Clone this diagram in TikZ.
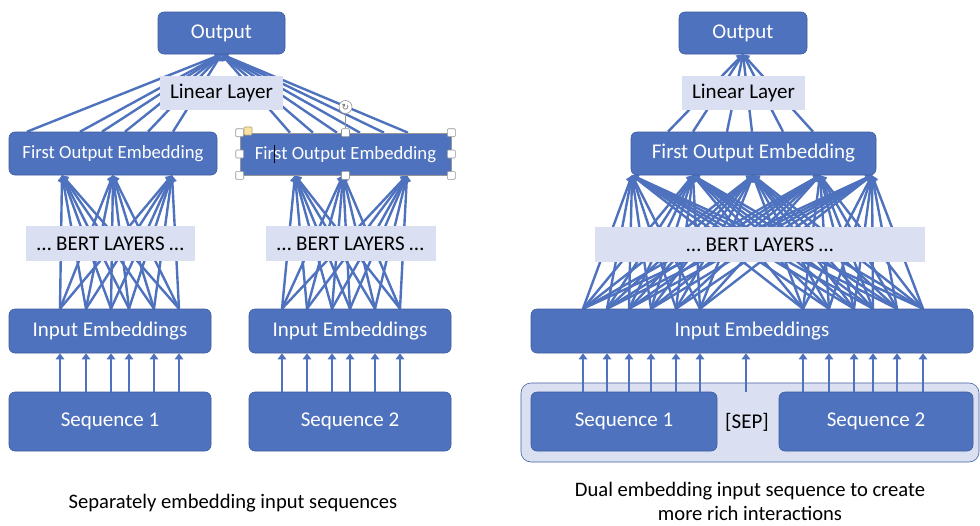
\documentclass[tikz,border=0pt]{standalone}
\usepackage{fontspec}
\setmainfont{Carlito}
\newfontfamily\symfont{DejaVu Sans}
\usetikzlibrary{arrows.meta,backgrounds}
\definecolor{boxblue}{RGB}{79,114,190}
\definecolor{boxedge}{RGB}{62,92,158}
\definecolor{boxlite}{RGB}{218,224,241}
\definecolor{selgrey}{RGB}{150,150,150}
\definecolor{handleyel}{RGB}{250,226,160}

\begin{document}
\begin{tikzpicture}[x=1pt, y=-1pt,
    blk/.style={draw=boxedge, line width=0.6pt, fill=boxblue, rounded corners=6pt, text=white, inner sep=0pt, font=\fontsize{21}{25}\selectfont},
    lite/.style={fill=boxlite, text=black, inner sep=0pt, font=\fontsize{21}{25}\selectfont},
    link/.style={boxblue, line width=2.4pt, -{Triangle[length=6pt,width=8.5pt]}},
    handle/.style={draw=selgrey, fill=white, line width=0.6pt, minimum size=8pt, inner sep=0pt, rounded corners=1pt},
    caption/.style={text=black, align=center, inner sep=0pt, font=\fontsize{20.6}{24}\selectfont}]
  \useasboundingbox (0,0) rectangle (980,525);

  % separately embedded sequences
  \node[blk, minimum width=127pt, minimum height=42pt] (outA) at (221.5,33) {Output};
  \node[lite, minimum width=123pt, minimum height=34pt] (linA) at (221.5,93) {Linear Layer};
  \node[blk, minimum width=208pt, minimum height=43pt, font=\fontsize{18.7}{22}\selectfont] (foeA) at (113,153.5) {First Output Embedding};
  \node[blk, rounded corners=0pt, draw=selgrey, minimum width=211pt, minimum height=42pt, font=\fontsize{18.7}{22}\selectfont] (foeB) at (345.5,154)
    {Fir\rlap{\color{black}\rule[-3pt]{1pt}{18pt}}st Output Embedding};
  \node[lite, minimum width=169pt, minimum height=35pt] (bertA) at (110.5,243.5) {… BERT LAYERS …};
  \node[lite, minimum width=170pt, minimum height=35pt] (bertB) at (350.5,243.5) {… BERT LAYERS …};
  \node[blk, minimum width=202pt, minimum height=44pt] (ieA) at (110,331) {Input Embeddings};
  \node[blk, minimum width=202pt, minimum height=44pt] (ieB) at (350,331) {Input Embeddings};
  \node[blk, minimum width=202pt, minimum height=59pt] (seqA) at (110,421.5) {Sequence 1};
  \node[blk, minimum width=202pt, minimum height=59pt] (seqB) at (350,421.5) {Sequence 2};
  \node[caption] (capA) at (233,503) {Separately embedding input sequences};

  % selection handles
  \foreach \p [count=\i] in {north west,north,north east,east,south east,south,south west,west}
    \node[handle] (h\i) at (foeB.\p) {};
  \node[handle, fill=handleyel, draw=handleyel!70!black] (adj) at (248,131) {};
  \node[handle, circle, minimum size=13pt, font=\symfont\fontsize{9}{9}\selectfont, text=selgrey!70!black] (rot) at (345.5,107) {↻};
  \draw[selgrey, line width=0.6pt] (rot) -- (h2);

  % dual embedded sequence
  \node[blk, minimum width=128pt, minimum height=42pt] (outC) at (743,33) {Output};
  \node[lite, minimum width=123pt, minimum height=34pt] (linC) at (743.5,93) {Linear Layer};
  \node[blk, minimum width=245pt, minimum height=43pt] (foeC) at (753.5,153.5) {First Output Embedding};
  \node[lite, minimum width=330pt, minimum height=35pt] (bertC) at (760,244.5) {… BERT LAYERS …};
  \node[blk, minimum width=442pt, minimum height=44pt] (ieC) at (752,331) {Input Embeddings};
  \node[blk, fill=boxlite, draw=boxblue!85!black, rounded corners=10pt, minimum width=458pt, minimum height=79pt] (grp) at (750,422.5) {};
  \node[blk, minimum width=186pt, minimum height=59pt] (seqC) at (624,421.5) {Sequence 1};
  \node[blk, minimum width=194pt, minimum height=59pt] (seqD) at (876,421.5) {Sequence 2};
  \node[text=black, font=\fontsize{21}{25}\selectfont] (sep) at (747,422) {[SEP]};
  \node[caption] (capC) at (750,501.5) {Dual embedding input sequence to create\\more rich interactions};
  \coordinate (sepTop) at (746,392);

  % token arrows
  \foreach \x in {60,86,111,129,154,179}
    \draw[link] (seqA.north -| \x,0) -- (ieA.south -| \x,0);
  \foreach \x in {282,307,332,350,375,400}
    \draw[link] (seqB.north -| \x,0) -- (ieB.south -| \x,0);
  \foreach \x in {583,607,629,651,676,700}
    \draw[link] (seqC.north -| \x,0) -- (ieC.south -| \x,0);
  \foreach \x in {803,829,854,873,897,923}
    \draw[link] (seqD.north -| \x,0) -- (ieC.south -| \x,0);
  \draw[link] (sepTop) -- (ieC.south -| sepTop);

  \begin{scope}[on background layer]
    \fill[white] (0,0) rectangle (980,525);
    % attention mesh
    \foreach \s in {60,86,111,129,154,179}
      \foreach \t in {62,113,172}
        \draw[link] (ieA.north -| \s,0) -- (foeA.south -| \t,0);
    \foreach \s in {282,307,332,350,375,400}
      \foreach \t in {295,343,407}
        \draw[link] (ieB.north -| \s,0) -- (foeB.south -| \t,0);
    \foreach \s in {583,607,629,651,676,700,803,829,854,873,897,923}
      \foreach \t in {632,693,753,820,872}
        \draw[link] (ieC.north -| \s,0) -- (foeC.south -| \t,0);
    % linear layer fan
    \foreach \s in {27,80,102,125,148,173}
      \draw[link] (foeA.north -| \s,0) -- (outA.south);
    \foreach \s in {290,313,337,360,384,408}
      \draw[link] (foeB.north -| \s,0) -- (outA.south);
    \foreach \s in {668,693,727,752,783,813}
      \draw[link] (foeC.north -| \s,0) -- (outC.south);
  \end{scope}
\end{tikzpicture}
\end{document}
